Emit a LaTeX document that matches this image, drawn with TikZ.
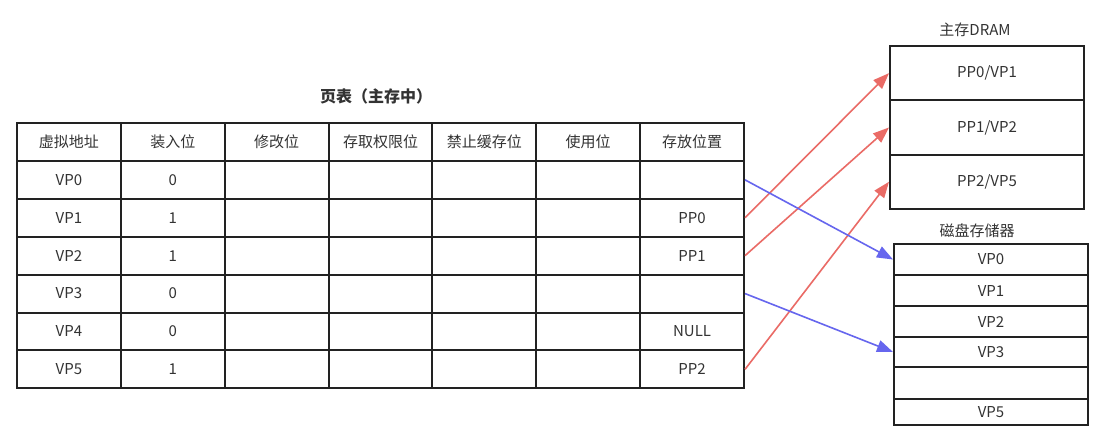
\documentclass[tikz,border=0pt]{standalone}
\usepackage{fontspec}
\setmainfont{Noto Sans CJK SC}
\usetikzlibrary{arrows.meta}
\definecolor{linec}{HTML}{222222}
\definecolor{textc}{HTML}{333333}
\definecolor{redc}{HTML}{EA6B66}
\definecolor{bluec}{HTML}{6666EE}
\tikzset{
  cell/.style={draw=linec, line width=2pt, minimum width=103.86pt, minimum height=37.9pt,
    inner sep=0pt, anchor=north west, font=\fontsize{15}{17}\selectfont, text=textc},
  membox/.style={draw=linec, line width=2pt, minimum width=194pt, minimum height=54.3pt,
    inner sep=0pt, anchor=north west, font=\fontsize{15}{17}\selectfont, text=textc},
  diskbox/.style={draw=linec, line width=2pt, minimum width=194pt,
    inner sep=0pt, anchor=north west, font=\fontsize{15}{17}\selectfont, text=textc},
  lbl/.style={font=\fontsize{15}{17}\selectfont, text=textc, inner sep=0pt},
  redarrow/.style={draw=redc, line width=1.6pt, -{Triangle[length=16pt,width=12pt]}},
  bluearrow/.style={draw=bluec, line width=1.6pt, -{Triangle[length=16pt,width=12pt]}}
}
\begin{document}
\begin{tikzpicture}[x=1pt,y=-1pt]
\useasboundingbox[fill=white] (0,0) rectangle (1097,437);
\node[lbl, font=\fontsize{16}{18}\selectfont\bfseries] (title) at (376,96) {页表（主存中）};
\foreach \t [count=\i from 0] in {虚拟地址,装入位,修改位,存取权限位,禁止缓存位,使用位,存放位置}
  \node[cell] (h\i) at ({16+\i*103.86},122) {\t};
\foreach \a/\b/\c [count=\r] in {VP0/0/{},VP1/1/PP0,VP2/1/PP1,VP3/0/{},VP4/0/NULL,VP5/1/PP2} {
  \foreach \k in {0,...,6} {
    \node[cell] (c\r-\k) at ({16+\k*103.86},{122+\r*37.9}) {\ifcase\k \a\or \b\or\or\or\or\or \c\fi};
  }
}
% main memory
\node[lbl] (dramlbl) at (975,30) {主存DRAM};
\node[membox] (m1) at (889,45) {PP0/VP1};
\node[membox] (m2) at (889,99.3) {PP1/VP2};
\node[membox] (m3) at (889,153.6) {PP2/VP5};
% disk
\node[lbl] (disklbl) at (977,231) {磁盘存储器};
\node[diskbox, minimum height=31pt] (d0) at (893,243) {VP0};
\node[diskbox, minimum height=31pt] (d1) at (893,274) {VP1};
\node[diskbox, minimum height=31pt] (d2) at (893,305) {VP2};
\node[diskbox, minimum height=30pt] (d3) at (893,336) {VP3};
\node[diskbox, minimum height=32pt] (d4) at (893,366) {};
\node[diskbox, minimum height=26pt] (d5) at (893,398) {VP5};
% arrows
\draw[redarrow] (c2-6.east) -- (m1.west);
\draw[redarrow] (c3-6.east) -- (m2.west);
\draw[redarrow] (c6-6.east) -- (m3.west);
\draw[bluearrow] (c1-6.east) -- (d0.west);
\draw[bluearrow] (c4-6.east) -- (d3.west);
\end{tikzpicture}
\end{document}
